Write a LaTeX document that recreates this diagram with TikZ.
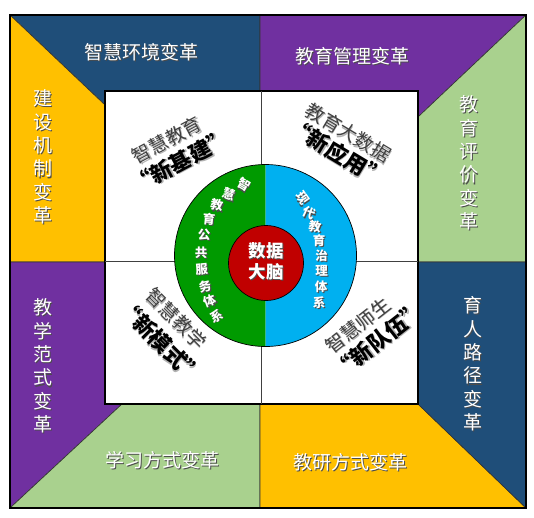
\documentclass[tikz,border=0pt]{standalone}
\usepackage{fontspec}
\setmainfont{Noto Sans CJK SC}
\definecolor{dblue}{HTML}{1F4E79}
\definecolor{purp}{HTML}{7030A0}
\definecolor{yel}{HTML}{FFC000}
\definecolor{lgreen}{HTML}{A9D18E}
\definecolor{cgreen}{HTML}{009A00}
\definecolor{cblue}{HTML}{00B0F0}
\definecolor{cred}{HTML}{C00000}
\newcommand\shw[1]{\leavevmode\rlap{\kern1.2pt\raisebox{-1.2pt}{\textcolor{black!70}{#1}}}#1}
\newcommand\shg[1]{\leavevmode\rlap{\kern1.2pt\raisebox{-1.2pt}{\textcolor{black!30}{#1}}}#1}
\tikzset{
  panel/.style={draw=black!80, line width=0.6pt},
  outertxt/.style={text=white, font=\fontsize{19}{23.4}\selectfont, inner sep=0pt, align=center},
  qone/.style={text=black!75, font=\fontsize{19}{22}\selectfont, inner sep=0pt},
  qtwo/.style={text=black, font=\fontsize{22}{24}\selectfont\bfseries, inner sep=0pt},
  ctxt/.style={text=white, font=\fontsize{12.5}{12.5}\selectfont\bfseries, inner sep=0pt},
}
\begin{document}
\begin{tikzpicture}[x=1pt,y=-1pt]
\useasboundingbox (0,0) rectangle (534,517);
% outer panels
\draw[panel, fill=dblue] (10,15) -- (260,15) -- (260,91) -- (105,91) -- (105,105) -- cycle;
\draw[panel, fill=purp] (260,15) -- (526,15) -- (418,117) -- (418,91) -- (260,91) -- cycle;
\draw[panel, fill=lgreen] (526,15) -- (526,262) -- (418,262) -- (418,117) -- cycle;
\draw[panel, fill=yel] (10,15) -- (105,105) -- (105,262) -- (10,262) -- cycle;
\draw[panel, fill=purp] (10,262) -- (105,262) -- (105,404) -- (122,404) -- (10,508) -- cycle;
\draw[panel, fill=lgreen] (122,404) -- (260,404) -- (260,508) -- (10,508) -- cycle;
\draw[panel, fill=yel] (260,404) -- (418,404) -- (526,508) -- (260,508) -- cycle;
\draw[panel, fill=dblue] (418,262) -- (526,262) -- (526,508) -- (418,404) -- cycle;
\draw[black, line width=1.5pt] (10,15) rectangle (526,508);
% inner white box
\draw[fill=white, line width=1.3pt] (105,91) rectangle (418,404);
\draw[black!75, line width=0.8pt] (261.5,91) -- (261.5,404);
\draw[black!75, line width=0.8pt] (105,261) -- (418,261);
% circle
\fill[cgreen] (265.5,164.5) arc[start angle=270, end angle=90, radius=91] -- cycle;
\fill[cblue] (265.5,164.5) arc[start angle=270, end angle=450, radius=91] -- cycle;
\draw[black, line width=0.7pt] (265.5,255.5) circle[radius=91];
\draw[black, line width=0.7pt, fill=cred] (266,263) circle[radius=37.5];
\node[text=white, font=\fontsize{17.5}{20.5}\selectfont\bfseries, align=center, inner sep=0pt] (brain) at (266,262) {\shw{数据}\\\shw{大脑}};
% outer texts
\node[outertxt] (env) at (141,53) {\shw{智慧环境变革}};
\node[outertxt] (mgmt) at (352,57) {\shw{教育管理变革}};
\node[outertxt] (learn) at (162,461) {\shw{学习方式变革}};
\node[outertxt] (res) at (350,463) {\shw{教研方式变革}};
\node[outertxt] (mech) at (43,157.5) {\shw{建}\\\shw{设}\\\shw{机}\\\shw{制}\\\shw{变}\\\shw{革}};
\node[outertxt] (teach) at (43,366.5) {\shw{教}\\\shw{学}\\\shw{范}\\\shw{式}\\\shw{变}\\\shw{革}};
\node[outertxt] (eval) at (469,163.5) {\shw{教}\\\shw{育}\\\shw{评}\\\shw{价}\\\shw{变}\\\shw{革}};
\node[outertxt] (path) at (473,364.5) {\shw{育}\\\shw{人}\\\shw{路}\\\shw{径}\\\shw{变}\\\shw{革}};
% quadrant texts
\node[qone, rotate=28] (q1a) at (167,141) {\shg{智慧教育}};
\node[qtwo, rotate=28] (q1b) at (181,162) {\shg{“新基建”}};
\node[qone, rotate=-31] (q2a) at (348,133) {\shg{教育大数据}};
\node[qtwo, rotate=-31] (q2b) at (337,153) {\shg{“新应用”}};
\node[qone, rotate=-45] (q3a) at (176,319) {\shg{智慧教学}};
\node[qtwo, rotate=-45] (q3b) at (160,342) {\shg{“新模式”}};
\node[qone, rotate=38] (q4a) at (358,326) {\shg{智慧师生}};
\node[qtwo, rotate=38] (q4b) at (379,341) {\shg{“新队伍”}};
% green arc text
\node[ctxt, rotate=-30] (g1) at (244,185) {\shw{智}};
\node[ctxt, rotate=-20] (g2) at (229,195) {\shw{慧}};
\node[ctxt, rotate=-10] (g3) at (216.7,206) {\shw{教}};
\node[ctxt, rotate=-5] (g4) at (209,219.5) {\shw{育}};
\node[ctxt] (g5) at (204,235.5) {\shw{公}};
\node[ctxt] (g6) at (201,253) {\shw{共}};
\node[ctxt, rotate=5] (g7) at (201.7,270) {\shw{服}};
\node[ctxt, rotate=12] (g8) at (205,286.7) {\shw{务}};
\node[ctxt, rotate=20] (g9) at (210,301.7) {\shw{体}};
\node[ctxt, rotate=28] (g10) at (216.7,316.7) {\shw{系}};
% blue arc text
\node[ctxt, rotate=-55] (b1) at (302.3,198.3) {\shw{现}};
\node[ctxt, rotate=-25] (b2) at (309,213.5) {\shw{代}};
\node[ctxt, rotate=-8] (b3) at (315,227) {\shw{教}};
\node[ctxt] (b4) at (319,241.5) {\shw{育}};
\node[ctxt] (b5) at (321.5,256.5) {\shw{治}};
\node[ctxt] (b6) at (321.5,271.5) {\shw{理}};
\node[ctxt] (b7) at (321,287) {\shw{体}};
\node[ctxt] (b8) at (319,303) {\shw{系}};
\end{tikzpicture}
\end{document}
